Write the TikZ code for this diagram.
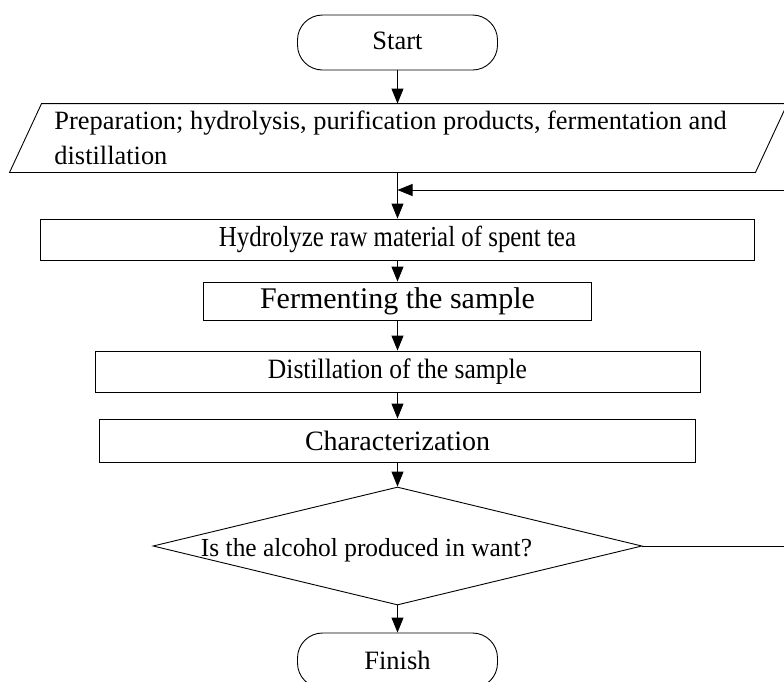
\documentclass[tikz,border=0pt]{standalone}
\usepackage{fontspec}
\setmainfont{Liberation Serif}
\usetikzlibrary{shapes.geometric,arrows.meta}
\begin{document}
\begin{tikzpicture}[x=1pt,y=-1pt, line width=0.9pt,
  arr/.style={-{Triangle[length=15pt,width=12pt]}},
  term/.style={draw, rounded corners=25pt, minimum width=200pt, minimum height=55pt, inner sep=0pt, font=\fontsize{26.5}{30}\selectfont},
  proc/.style={draw, inner sep=0pt},
  lbl/.style={inner sep=0pt}]
\useasboundingbox (0,0) rectangle (784,681);

\node[term] (start) at (397.5,42.5) {\raisebox{4pt}{Start}};

\node[lbl, minimum width=745pt, minimum height=68pt] (prep) at (398.5,138) {};
\draw ([xshift=16pt]prep.north west) -- ([xshift=16pt]prep.north east) -- ([xshift=-16pt]prep.south east) -- ([xshift=-16pt]prep.south west) -- cycle;
\node[lbl, anchor=base west, font=\fontsize{26.4}{30}\selectfont] (prep1) at (54,129) {Preparation; hydrolysis, purification products, fermentation and};
\node[lbl, anchor=base west, font=\fontsize{26.4}{30}\selectfont] (prep2) at (54,164) {distillation};

\node[proc, minimum width=714pt, minimum height=41pt, font=\fontsize{29}{30}\selectfont] (hydro) at (397.5,239.5) {\resizebox{357pt}{\height}{Hydrolyze raw material of spent tea}};
\node[proc, minimum width=388pt, minimum height=38pt, font=\fontsize{30}{32}\selectfont] (ferm) at (397.5,301) {Fermenting the sample\hspace{24pt}};
\node[proc, minimum width=605pt, minimum height=41pt, font=\fontsize{28}{30}\selectfont] (dist) at (397.5,371.5) {\resizebox{259pt}{\height}{Distillation of the sample}};
\node[proc, minimum width=596pt, minimum height=43pt, font=\fontsize{28}{30}\selectfont] (char) at (397.5,440.5) {Characterization};
\node[draw, diamond, minimum width=489pt, minimum height=118pt, inner sep=0pt] (dec) at (397.5,546) {};
\node[lbl, anchor=base, font=\fontsize{26}{30}\selectfont] (dectext) at (366.5,556) {\resizebox{331pt}{\height}{Is the alcohol produced in want?}};
\node[term] (finish) at (397.5,660.5) {Finish};

\coordinate (join) at (397.5,190);
\coordinate (loopR) at (786,546);

\draw[arr] (start.south) -- (start.south |- prep.north);
\draw[arr] (join |- prep.south) -- (hydro.north);
\draw[arr] (hydro.south) -- (ferm.north);
\draw[arr] (ferm.south) -- (dist.north);
\draw[arr] (dist.south) -- (char.north);
\draw[arr] (char.south) -- (dec.north);
\draw[arr] (dec.south) -- (finish.north);
\draw[arr] (dec.east) -- (loopR) |- (join);
\end{tikzpicture}
\end{document}
